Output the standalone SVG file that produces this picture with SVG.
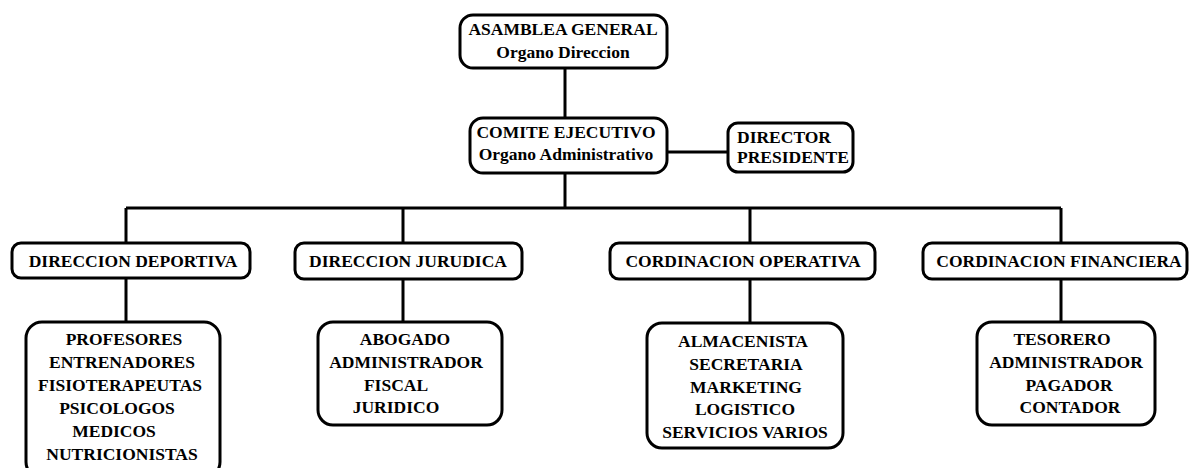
<svg xmlns="http://www.w3.org/2000/svg" width="1190" height="468" viewBox="0 0 1190 468">
<style>
.box{fill:#fff;stroke:#000;stroke-width:3}
.ln{fill:none;stroke:#000;stroke-width:3}
text{font-family:"Liberation Serif","Times New Roman",serif;font-weight:bold;font-size:17.5px;fill:#000}
.c{text-anchor:middle}
</style>
<rect width="1190" height="468" fill="#fff"/>
<g id="connectors">
<path class="ln" d="M565 68V118"/>
<path class="ln" d="M667 152H728"/>
<path class="ln" d="M565 173V208"/>
<path class="ln" d="M126 208H1061"/>
<path class="ln" d="M126 208V243M403 208V243M750 208V243M1061 208V243"/>
<path class="ln" d="M126 278V322M403 279V322M750 279V323M1061 279V322"/>
</g>
<g id="asamblea">
<rect class="box" x="460" y="15" width="207" height="53" rx="13"/>
<text class="c" x="563" y="35">ASAMBLEA GENERAL</text>
<text class="c" x="563" y="58">Organo Direccion</text>
</g>
<g id="comite">
<rect class="box" x="470" y="118" width="197" height="55" rx="13"/>
<text class="c" x="566" y="138">COMITE EJECUTIVO</text>
<text class="c" x="566" y="160">Organo Administrativo</text>
</g>
<g id="director">
<rect class="box" x="728" y="123" width="125" height="49" rx="10"/>
<text x="737" y="143">DIRECTOR</text>
<text x="737" y="163">PRESIDENTE</text>
</g>
<g id="dir-deportiva">
<rect class="box" x="12" y="243" width="238" height="35" rx="9"/>
<text class="c" x="133" y="267">DIRECCION DEPORTIVA</text>
</g>
<g id="dir-juridica">
<rect class="box" x="295" y="243" width="227" height="36" rx="9"/>
<text class="c" x="408" y="267">DIRECCION JURUDICA</text>
</g>
<g id="cord-operativa">
<rect class="box" x="610" y="243" width="265" height="36" rx="9"/>
<text class="c" x="743" y="267">CORDINACION OPERATIVA</text>
</g>
<g id="cord-financiera">
<rect class="box" x="923" y="243" width="264" height="36" rx="9"/>
<text class="c" x="1059" y="267">CORDINACION FINANCIERA</text>
</g>
<g id="deportiva-staff">
<rect class="box" x="26" y="322" width="194" height="156" rx="16"/>
<text class="c" x="124" y="345">PROFESORES</text>
<text class="c" x="122" y="368">ENTRENADORES</text>
<text class="c" x="120" y="391">FISIOTERAPEUTAS</text>
<text class="c" x="117" y="414">PSICOLOGOS</text>
<text class="c" x="114" y="437">MEDICOS</text>
<text class="c" x="122" y="460">NUTRICIONISTAS</text>
</g>
<g id="juridica-staff">
<rect class="box" x="318" y="322" width="184" height="103" rx="15"/>
<text class="c" x="405" y="345">ABOGADO</text>
<text class="c" x="406" y="368">ADMINISTRADOR</text>
<text class="c" x="396" y="391">FISCAL</text>
<text class="c" x="396" y="413">JURIDICO</text>
</g>
<g id="operativa-staff">
<rect class="box" x="647" y="323" width="196" height="125" rx="15"/>
<text class="c" x="743" y="347">ALMACENISTA</text>
<text class="c" x="746" y="370">SECRETARIA</text>
<text class="c" x="746" y="393">MARKETING</text>
<text class="c" x="745" y="415">LOGISTICO</text>
<text class="c" x="745" y="438">SERVICIOS VARIOS</text>
</g>
<g id="financiera-staff">
<rect class="box" x="977" y="322" width="178" height="103" rx="15"/>
<text class="c" x="1062" y="345">TESORERO</text>
<text class="c" x="1066" y="368">ADMINISTRADOR</text>
<text class="c" x="1069" y="391">PAGADOR</text>
<text class="c" x="1070" y="413">CONTADOR</text>
</g>
</svg>
